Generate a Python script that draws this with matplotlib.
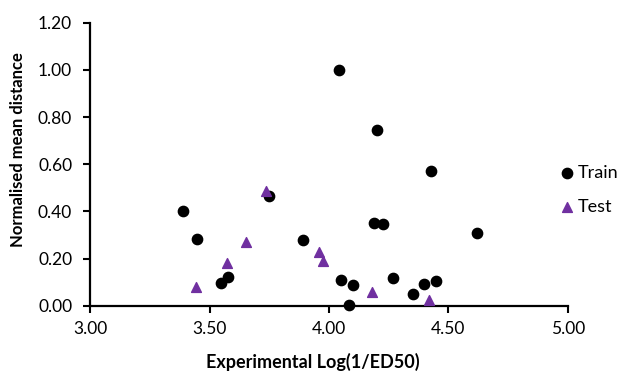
import matplotlib
matplotlib.use("Agg")
import matplotlib.pyplot as plt

train_x = [3.389, 3.446, 3.547, 3.577, 3.749, 3.891, 4.042, 4.049, 4.085, 4.100,
           4.202, 4.190, 4.228, 4.267, 4.350, 4.396, 4.428, 4.448, 4.622]
train_y = [0.400, 0.282, 0.096, 0.123, 0.464, 0.279, 1.000, 0.109, 0.002, 0.088,
           0.745, 0.352, 0.345, 0.119, 0.051, 0.092, 0.572, 0.106, 0.307]
test_x = [3.441, 3.572, 3.654, 3.737, 3.960, 3.975, 4.181, 4.418]
test_y = [0.078, 0.181, 0.270, 0.488, 0.228, 0.190, 0.058, 0.023]

xticks = [3.00, 3.50, 4.00, 4.50, 5.00]
yticks = [0.00, 0.20, 0.40, 0.60, 0.80, 1.00, 1.20]

plt.rcParams['font.family'] = ['Lato', 'DejaVu Sans']

W, H = 619, 374
fig = plt.figure(figsize=(W / 100, H / 100), dpi=100)
ax = fig.add_axes([90.3 / W, 1 - 305.7 / H, (567.7 - 90.3) / W, (305.7 - 22.7) / H])

ax.scatter(train_x, train_y, marker='o', s=55, color='black', label='Train', zorder=3, clip_on=False)
ax.scatter(test_x, test_y, marker='^', s=50, color='#7030A0', label='Test', zorder=3, clip_on=False)

ax.set_xlim(3.0, 5.0)
ax.set_ylim(0.0, 1.2)
ax.set_xticks(xticks)
ax.set_yticks(yticks)
ax.set_xticklabels([f"{v:.2f}" for v in xticks])
ax.set_yticklabels([f"{v:.2f}" for v in yticks])
ax.tick_params(axis='both', labelsize=12.5, width=1.5, length=5, colors='black', direction='out')
ax.tick_params(axis='x', pad=6)
ax.tick_params(axis='y', pad=8)
for s in ['top', 'right']:
    ax.spines[s].set_visible(False)
for s in ['left', 'bottom']:
    ax.spines[s].set_linewidth(1.6)

fig.text(312.5 / W, 1 - 362 / H, 'Experimental Log(1/ED50)', fontsize=13, fontweight='bold',
         ha='center', va='center')
fig.text(18 / W, 1 - 150 / H, 'Normalised mean distance', fontsize=12, fontweight='bold',
         ha='center', va='center', rotation=90)

leg = fig.legend(loc='center left', bbox_to_anchor=(559.5 / W, 1 - 190 / H), frameon=False,
                 fontsize=13, handletextpad=0.2, labelspacing=1.0, handlelength=0.8,
                 borderpad=0, borderaxespad=0)

fig.savefig('out.png', dpi=100)
